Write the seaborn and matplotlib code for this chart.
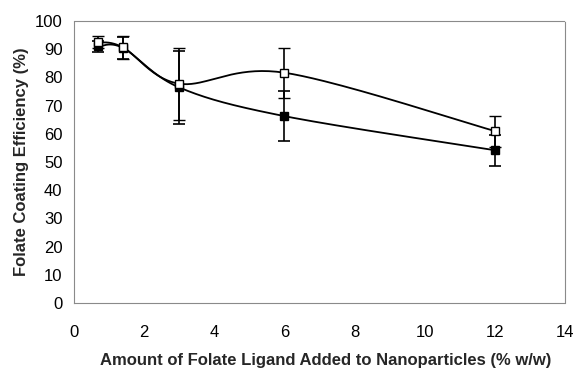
import matplotlib
matplotlib.use("Agg")
import matplotlib.pyplot as plt
import seaborn as sns
import numpy as np
import pandas as pd

# folate ligand added (% w/w)
ligand = [0.7, 1.4, 3, 6, 12]

# coating efficiency (%) and error bars
filled_eff = [91.0, 90.5, 76.5, 66.3, 54.2]
filled_err = [2.0, 4.0, 12.9, 9.0, 5.5]
open_eff = [92.5, 90.7, 77.8, 81.7, 61.0]
open_err = [2.2, 4.0, 12.8, 8.9, 5.5]


def _smooth(x, y, n=40):
    # excel-style smoothed line: catmull-rom bezier through the points
    p = np.column_stack([x, y]).astype(float)
    p = np.vstack([p[0], p, p[-1]])
    out = []
    t = np.linspace(0, 1, n)[:, None]
    for i in range(1, len(p) - 2):
        p0, p1, p2, p3 = p[i - 1], p[i], p[i + 1], p[i + 2]
        c1 = p1 + (p2 - p0) / 6.0
        c2 = p2 - (p3 - p1) / 6.0
        seg = ((1 - t) ** 3 * p1 + 3 * (1 - t) ** 2 * t * c1
               + 3 * (1 - t) * t ** 2 * c2 + t ** 3 * p2)
        out.append(seg if i == 1 else seg[1:])
    out = np.vstack(out)
    return out[:, 0], out[:, 1]


sns.set_style("white")
plt.rcParams['font.family'] = ['Liberation Sans', 'DejaVu Sans']

fig = plt.figure(figsize=(5.76, 3.70), dpi=100)
ax = fig.add_axes([0.128, 0.181, 0.853, 0.762])

frames = []
for name, ys in [("filled", filled_eff), ("open", open_eff)]:
    sx, sy = _smooth(ligand, ys)
    frames.append(pd.DataFrame({"x": sx, "y": sy, "series": name}))
curves = pd.concat(frames, ignore_index=True)

sns.lineplot(data=curves, x="x", y="y", units="series", estimator=None,
             sort=False, color="black", linewidth=1.3, ax=ax, zorder=2)

ax.errorbar(ligand, filled_eff, yerr=filled_err, fmt="s", color="black",
            mfc="black", mec="black", ms=5.5, ecolor="black", elinewidth=1.2,
            capsize=4.5, capthick=1.2, zorder=3)
ax.errorbar(ligand, open_eff, yerr=open_err, fmt="s", color="black",
            mfc="white", mec="black", ms=5.5, mew=1.0, ecolor="black",
            elinewidth=1.2, capsize=4.5, capthick=1.2, zorder=4)

ax.set_xlim(0, 14)
ax.set_ylim(0, 100)
ax.set_xticks(np.arange(0, 15, 2))
ax.set_yticks(np.arange(0, 101, 10))

for s in ax.spines.values():
    s.set_visible(True)
    s.set_color("#8a8a8a")
    s.set_linestyle((0, (1, 1)))
    s.set_linewidth(0.8)

ax.tick_params(axis="both", direction="out", length=3, width=0.8,
               color="#9a9a9a", labelsize=12, labelcolor="black")
ax.tick_params(axis="x", pad=13)
ax.tick_params(axis="y", pad=5)

ax.set_xlabel("Amount of Folate Ligand Added to Nanoparticles (% w/w)",
              fontsize=12, fontweight="bold", labelpad=9)
ax.xaxis.label.set_x(0.513)
ax.set_ylabel("Folate Coating Efficiency (%)", fontsize=12,
              fontweight="bold", labelpad=4)

fig.savefig("out.png", dpi=100)
